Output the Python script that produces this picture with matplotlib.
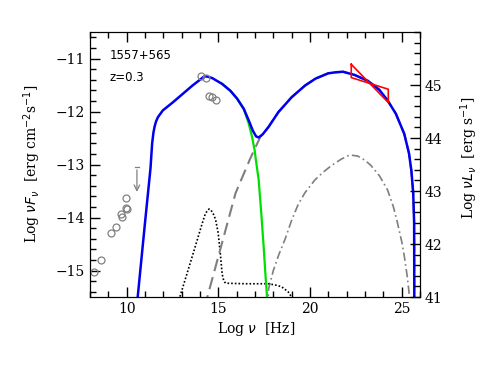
import numpy as np
import matplotlib
matplotlib.use("Agg")
import matplotlib.pyplot as plt
from matplotlib.ticker import MultipleLocator

# total model (blue)
tot_x = [10.55, 10.61, 11.0, 11.30, 11.39, 11.46, 11.52, 11.60, 11.70, 11.97, 12.51, 13.05, 13.59, 14.04,
         14.22, 14.4, 14.67, 15.21, 15.66, 16.03, 16.39, 16.66, 16.88, 17.06, 17.2, 17.42, 17.74, 18.28,
         19.0, 19.73, 20.3, 20.99, 21.4, 21.8, 22.43, 23.15, 23.78, 24.23, 24.68, 25.14, 25.4, 25.53,
         25.63, 25.68, 25.69]
tot_y = [-15.7, -15.47, -14.1, -13.07, -12.60, -12.40, -12.29, -12.19, -12.11, -11.98, -11.83, -11.67,
         -11.51, -11.39, -11.34, -11.34, -11.37, -11.48, -11.61, -11.76, -11.95, -12.17, -12.36, -12.47,
         -12.49, -12.43, -12.29, -12.01, -11.73, -11.51, -11.38, -11.28, -11.26, -11.25, -11.31, -11.42,
         -11.59, -11.79, -12.04, -12.42, -12.79, -13.12, -13.54, -14.1, -15.7]

# synchrotron (green)
syn_x = [15.21, 15.66, 16.03, 16.39, 16.66, 16.84, 16.98, 17.05, 17.2, 17.34, 17.47, 17.56, 17.65, 17.67]
syn_y = [-11.48, -11.61, -11.76, -11.96, -12.23, -12.48, -12.73, -12.92, -13.29, -13.91, -14.54, -15.03,
         -15.47, -15.7]

# SSC (grey dashed)
ssc_x = [14.35, 14.4, 15.94, 16.75, 17.29, 17.42, 17.74, 18.28, 19.0, 19.73, 20.3, 20.99, 21.4, 21.8,
         22.43, 23.15, 23.78, 24.23, 24.68, 25.14, 25.4, 25.53, 25.63, 25.68, 25.69]
ssc_y = [-15.7, -15.5, -13.54, -12.88, -12.48, -12.43, -12.29, -12.01, -11.73, -11.51, -11.38, -11.28,
         -11.26, -11.25, -11.31, -11.42, -11.59, -11.79, -12.04, -12.42, -12.79, -13.12, -13.54, -14.1, -15.7]

# disk / torus (dotted)
disk_x = [12.85, 12.9, 13.59, 14.13, 14.3, 14.49, 14.6, 14.75, 14.85, 14.99, 15.12, 15.21, 15.3, 15.4,
          16.5, 17.74, 18.2, 18.46, 18.8, 19.0, 19.05]
disk_y = [-15.7, -15.5, -14.72, -14.1, -13.92, -13.84, -13.86, -13.95, -14.04, -14.29, -14.72, -15.07,
          -15.2, -15.24, -15.25, -15.25, -15.28, -15.31, -15.4, -15.5, -15.7]

# external Compton (grey dash-dot)
ec_x = [17.7, 17.74, 18.0, 18.3, 18.64, 19.0, 19.36, 19.73, 20.27, 20.7, 21.17, 21.7, 22.16, 22.6, 23.0,
        23.33, 23.8, 24.23, 24.55, 24.77, 25.0, 25.14, 25.3, 25.4, 25.45]
ec_y = [-15.7, -15.35, -15.0, -14.7, -14.41, -14.05, -13.75, -13.53, -13.29, -13.15, -13.02, -12.9,
        -12.82, -12.84, -12.92, -13.02, -13.22, -13.48, -13.8, -14.1, -14.45, -14.72, -15.1, -15.41, -15.7]

# archival data points
pts_x = [14.04, 14.31, 14.49, 14.67, 14.86, 9.98, 9.97, 10.0, 9.70, 9.72, 9.40, 9.17, 8.60, 8.22]
pts_y = [-11.33, -11.36, -11.70, -11.73, -11.79, -13.63, -13.82, -13.84, -13.93, -13.99, -14.17,
         -14.30, -14.80, -15.03]

# upper limit
ul_x = 10.56
ul_y = -13.05

# Fermi bowtie
bow_x = [22.25, 24.27, 24.27, 22.25, 22.25]
bow_y = [-11.11, -11.83, -11.58, -11.36, -11.11]

plt.rcParams["font.family"] = "DejaVu Serif"

fig = plt.figure(figsize=(4.91, 3.65), dpi=100)
ax = fig.add_axes([90 / 491, 1 - 297 / 365, 330 / 491, 265 / 365])

ax.plot(ec_x, ec_y, color="#7f7f7f", lw=1.2, linestyle=(0, (5, 2, 1, 2)))
ax.plot(disk_x, disk_y, color="black", lw=1.2, linestyle=(0, (1, 1.2)))
ax.plot(ssc_x, ssc_y, color="#7f7f7f", lw=1.5, linestyle=(0, (6, 3)))
ax.plot(syn_x, syn_y, color="#00e000", lw=1.6)
ax.plot(tot_x, tot_y, color="#0000ee", lw=1.8)
ax.plot(pts_x, pts_y, "o", mfc="none", mec="#808080", ms=5, mew=0.9)
ax.annotate("", xy=(ul_x, ul_y - 0.52), xytext=(ul_x, ul_y),
            arrowprops=dict(arrowstyle="->", color="#808080", lw=0.9))
ax.plot([ul_x - 0.12, ul_x + 0.12], [ul_y, ul_y], color="#808080", lw=0.9)
ax.plot(bow_x, bow_y, color="red", lw=1.2)

ax.set_xlim(8, 26)
ax.set_ylim(-15.5, -10.5)
ax.xaxis.set_major_locator(MultipleLocator(5))
ax.xaxis.set_minor_locator(MultipleLocator(1))
ax.yaxis.set_major_locator(MultipleLocator(1))
ax.yaxis.set_minor_locator(MultipleLocator(0.2))
ax.tick_params(which="both", direction="in", top=True, right=False, labelsize=10)
ax.tick_params(which="major", length=7, width=1)
ax.tick_params(which="minor", length=4, width=1)

ax2 = ax.twinx()
ax2.set_ylim(41, 46)
ax2.yaxis.set_major_locator(MultipleLocator(1))
ax2.yaxis.set_minor_locator(MultipleLocator(0.2))
ax2.tick_params(which="both", direction="in", labelsize=10)
ax2.tick_params(which="major", length=7, width=1)
ax2.tick_params(which="minor", length=4, width=1)
ax2.set_yticks([41, 42, 43, 44, 45])

ax.set_xlabel(r"Log $\nu$  [Hz]", fontsize=10)
ax.xaxis.set_label_coords(0.503, -0.087)
ax.set_ylabel(r"Log $\nu F_\nu$  [erg cm$^{-2}$s$^{-1}$]", fontsize=10)
ax.yaxis.set_label_coords(-0.142, 0.502)
ax2.set_ylabel(r"Log $\nu L_\nu$  [erg s$^{-1}$]", fontsize=10)
ax2.yaxis.set_label_coords(1.115, 0.525)

ax.text(0.06, 0.91, "1557+565", transform=ax.transAxes, fontsize=8.5, family="DejaVu Sans", va="center")
ax.text(0.06, 0.83, "z=0.3", transform=ax.transAxes, fontsize=8.5, family="DejaVu Sans", va="center")

fig.savefig("out.png", dpi=100)
